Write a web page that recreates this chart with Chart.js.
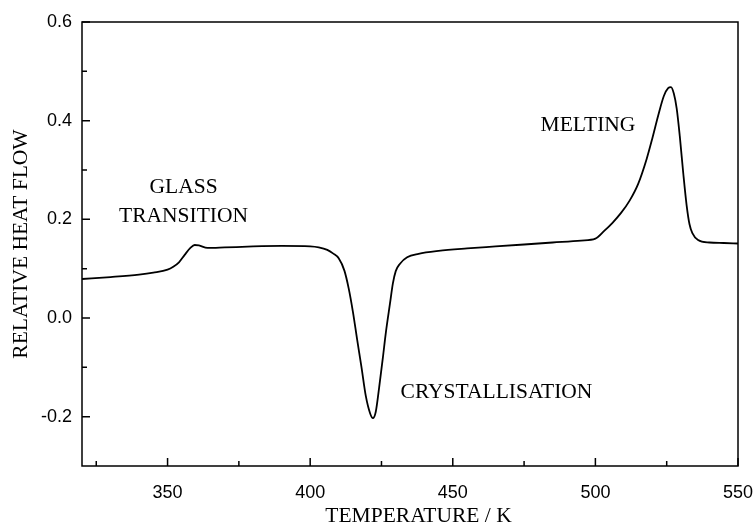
<!DOCTYPE html>
<html>
<head>
<meta charset="utf-8">
<script src="https://cdn.jsdelivr.net/npm/chart.js@4"></script>
<style>
  body { margin: 0; background: #fff; }
</style>
</head>
<body>
<canvas id="dsc" width="755" height="524"></canvas>
<script>
// DSC trace (K, relative heat flow)
const temperature = [320, 330, 340, 345, 350, 352, 354, 356, 358, 359.5, 361, 364, 370, 380, 390, 400,
  403, 406, 408, 410, 412, 413.5, 415, 416.5, 418, 419.5, 421, 422, 423, 424.2, 425.5, 426.5, 428, 429,
  430, 431.5, 434, 438, 445, 455, 465, 475, 485, 495, 500, 503, 506, 509, 512, 515, 518, 520, 522, 524,
  525.5, 526.5, 527.5, 528.5, 529.6, 530.8, 532, 533, 534, 536, 540, 545, 550];
const heatFlow = [0.079, 0.083, 0.088, 0.092, 0.098, 0.104, 0.113, 0.128, 0.142, 0.148, 0.147, 0.142, 0.143, 0.145, 0.146, 0.145,
  0.143, 0.138, 0.131, 0.121, 0.096, 0.06, 0.012, -0.045, -0.1, -0.158, -0.193, -0.203, -0.19, -0.14, -0.08, -0.031, 0.03, 0.07,
  0.095, 0.11, 0.123, 0.13, 0.136, 0.141, 0.145, 0.149, 0.153, 0.157, 0.161, 0.176, 0.193, 0.213, 0.238, 0.272, 0.323, 0.365, 0.41, 0.45,
  0.466, 0.468, 0.455, 0.425, 0.368, 0.294, 0.228, 0.19, 0.172, 0.158, 0.153, 0.152, 0.151];

const xMajor = [350, 400, 450, 500, 550];
const xMinor = [325, 375, 425, 475, 525];
const yMajor = [0.6, 0.4, 0.2, 0.0, -0.2];
const yMinor = [0.5, 0.3, 0.1, -0.1];

// text labels placed in data units
const notes = [
  { text: 'GLASS', x: 355.6, y: 0.264, align: 'center' },
  { text: 'TRANSITION', x: 355.6, y: 0.207, align: 'center' },
  { text: 'MELTING', x: 497.4, y: 0.39, align: 'center' },
  { text: 'CRYSTALLISATION', x: 431.7, y: -0.15, align: 'left' }
];

const serif = '"Liberation Serif", "Times New Roman", serif';
const sans = '"Liberation Sans", Arial, sans-serif';

const frameAndTicks = {
  id: 'frameAndTicks',
  afterDatasetsDraw(chart) {
    const { ctx, chartArea: a, scales } = chart;
    ctx.save();
    ctx.strokeStyle = '#000';
    ctx.lineWidth = 1.5;
    ctx.strokeRect(a.left, a.top, a.right - a.left, a.bottom - a.top);
    ctx.beginPath();
    xMajor.concat(xMinor).forEach(v => {
      const len = xMajor.includes(v) ? 8 : 5;
      const px = scales.x.getPixelForValue(v);
      ctx.moveTo(px, a.bottom);
      ctx.lineTo(px, a.bottom - len);
    });
    yMajor.concat(yMinor).forEach(v => {
      const len = yMajor.includes(v) ? 8 : 5;
      const py = scales.y.getPixelForValue(v);
      ctx.moveTo(a.left, py);
      ctx.lineTo(a.left + len, py);
    });
    ctx.stroke();

    ctx.fillStyle = '#000';
    ctx.font = '21.5px ' + serif;
    ctx.textBaseline = 'middle';
    notes.forEach(n => {
      ctx.textAlign = n.align;
      ctx.fillText(n.text, scales.x.getPixelForValue(n.x), scales.y.getPixelForValue(n.y));
    });

    // x axis title, sits a little right of the plot centre
    ctx.textAlign = 'center';
    ctx.textBaseline = 'alphabetic';
    ctx.fillText('TEMPERATURE / K', (a.left + a.right) / 2 + 8.5, chart.height - 2.5);
    ctx.restore();
  }
};

new Chart(document.getElementById('dsc'), {
  type: 'line',
  data: {
    datasets: [{
      data: temperature.map((t, i) => ({ x: t, y: heatFlow[i] })),
      borderColor: '#000',
      borderWidth: 1.8,
      pointRadius: 0,
      cubicInterpolationMode: 'monotone',
      fill: false
    }]
  },
  options: {
    responsive: false,
    animation: false,
    layout: { padding: { top: 22, right: 17, left: 0, bottom: 0 } },
    plugins: { legend: { display: false }, tooltip: { enabled: false } },
    scales: {
      x: {
        type: 'linear',
        min: 320,
        max: 550,
        afterFit(s) { s.height = 58; s.paddingLeft = 0; s.paddingRight = 0; },
        afterBuildTicks(s) { s.ticks = xMajor.map(v => ({ value: v })); },
        grid: { display: false, drawTicks: false },
        border: { display: false },
        ticks: { color: '#000', font: { family: sans, size: 18 }, padding: 16, maxRotation: 0 }
      },
      y: {
        min: -0.3,
        max: 0.6,
        afterFit(s) { s.width = 82; s.paddingTop = 0; s.paddingBottom = 0; },
        afterBuildTicks(s) { s.ticks = yMajor.map(v => ({ value: v })); },
        grid: { display: false, drawTicks: false },
        border: { display: false },
        ticks: {
          color: '#000',
          font: { family: sans, size: 18 },
          padding: 10,
          callback: v => v.toFixed(1)
        },
        title: {
          display: true,
          text: 'RELATIVE HEAT FLOW',
          color: '#000',
          font: { family: serif, size: 21.5, lineHeight: 1 },
          padding: { top: 11 }
        }
      }
    }
  },
  plugins: [frameAndTicks]
});
</script>
</body>
</html>
